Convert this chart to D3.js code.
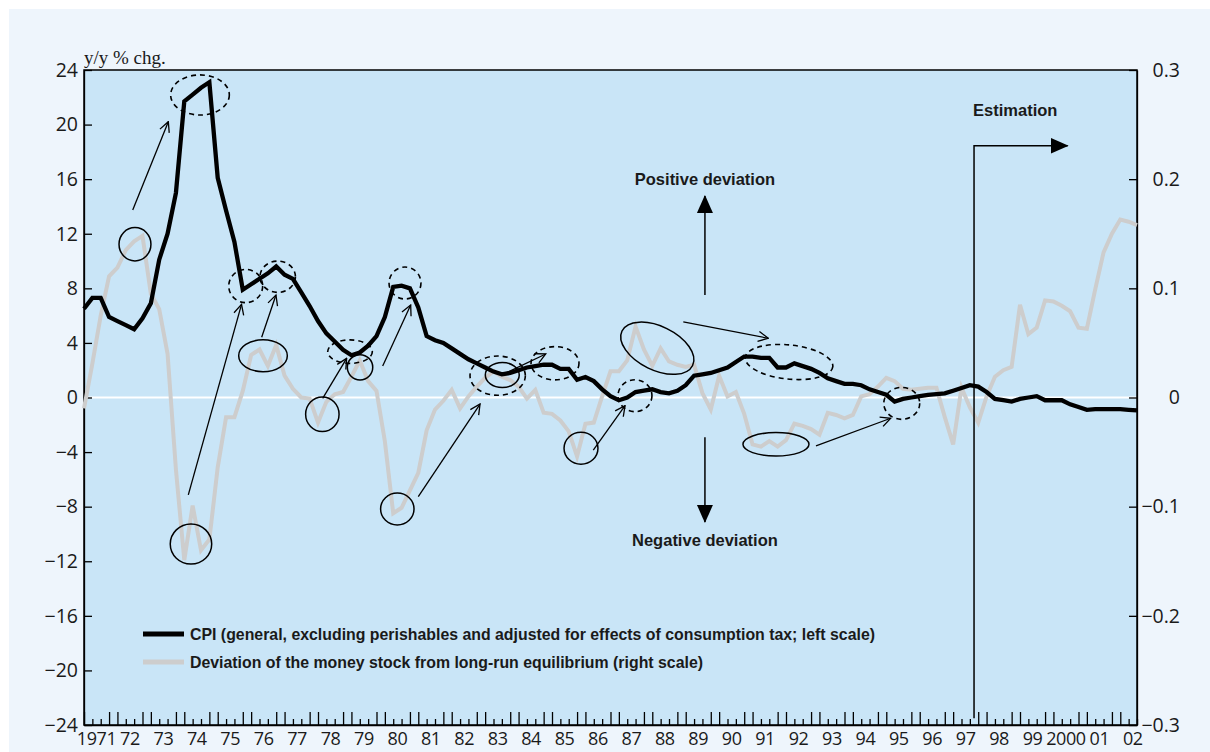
<!DOCTYPE html>
<html>
<head>
<meta charset="utf-8">
<script src="https://cdn.jsdelivr.net/npm/d3@7"></script>
<style>
  body { margin: 0; background: #fff; }
  svg text { font-family: "Open Sans", "DejaVu Sans", sans-serif; fill: #1a1a1a; }
  .cond { font-family: "Liberation Sans Narrow", "Arial Narrow", "Liberation Sans", sans-serif; font-weight: bold; }
</style>
</head>
<body>
<svg width="1210" height="752"></svg>
<script>
// quarterly data, 1971Q1 .. 2002Q3 (127 quarters)
var yearLabels = ["1971", "72", "73", "74", "75", "76", "77", "78", "79", "80",
  "81", "82", "83", "84", "85", "86", "87", "88", "89", "90", "91", "92", "93",
  "94", "95", "96", "97", "98", "99", "2000", "01", "02"];

var leftTicks = [-24, -20, -16, -12, -8, -4, 0, 4, 8, 12, 16, 20, 24];
var rightTicks = [-0.3, -0.2, -0.1, 0, 0.1, 0.2, 0.3];

// CPI, y/y % chg (left scale)
var cpi = [
  6.5, 7.3, 7.3, 5.9,     5.6, 5.3, 5.0, 5.8,     6.9, 10.1, 12.0, 15.0,
  21.7, 22.2, 22.7, 23.1, 16.1, 13.7, 11.4, 7.9,  8.3, 8.7, 9.1, 9.6,
  9.0, 8.7, 7.7, 6.7,     5.6, 4.7, 4.1, 3.5,     3.1, 3.3, 3.8, 4.5,
  5.9, 8.1, 8.2, 8.0,     6.6, 4.5, 4.2, 4.0,     3.6, 3.2, 2.8, 2.5,
  2.2, 1.9, 1.7, 1.8,     2.0, 2.2, 2.3, 2.4,     2.4, 2.1, 2.1, 1.3,
  1.5, 1.2, 0.6, 0.1,     -0.2, 0.0, 0.4, 0.5,    0.6, 0.4, 0.3, 0.5,
  0.9, 1.6, 1.7, 1.8,     2.0, 2.2, 2.6, 3.0,     3.0, 2.9, 2.9, 2.2,
  2.2, 2.5, 2.3, 2.1,     1.8, 1.4, 1.2, 1.0,     1.0, 0.9, 0.6, 0.4,
  0.2, -0.3, -0.1, 0.0,   0.1, 0.2, 0.25, 0.3,    0.5, 0.7, 0.9, 0.8,
  0.4, -0.1, -0.2, -0.3,  -0.1, 0.0, 0.1, -0.2,   -0.2, -0.2, -0.5, -0.7,
  -0.9, -0.85, -0.85, -0.85, -0.85, -0.9, -0.95
];

// deviation of money stock from long-run equilibrium (right scale)
var deviation = [
  -0.010, 0.031, 0.075, 0.111,   0.119, 0.135, 0.143, 0.148,
  0.095, 0.081, 0.040, -0.066,   -0.149, -0.099, -0.140, -0.130,
  -0.064, -0.018, -0.018, 0.006, 0.039, 0.044, 0.029, 0.048,
  0.020, 0.008, 0.000, -0.001,   -0.023, -0.004, 0.003, 0.005,
  0.019, 0.034, 0.015, 0.006,    -0.040, -0.106, -0.101, -0.085,
  -0.069, -0.030, -0.011, -0.003, 0.007, -0.010, 0.001, 0.010,
  0.018, 0.024, 0.019, 0.016,    0.010, -0.001, 0.007, -0.014,
  -0.015, -0.021, -0.031, -0.054, -0.024, -0.023, 0.001, 0.024,
  0.024, 0.034, 0.065, 0.044,    0.029, 0.045, 0.033, 0.030,
  0.028, 0.030, 0.004, -0.011,   0.020, 0.001, 0.005, -0.015,
  -0.043, -0.045, -0.040, -0.045, -0.039, -0.024, -0.026, -0.029,
  -0.034, -0.014, -0.016, -0.019, -0.016, 0.001, 0.003, 0.010,
  0.018, 0.015, 0.008, 0.007,    0.008, 0.009, 0.009, -0.018,
  -0.043, 0.009, -0.009, -0.023, 0.001, 0.019, 0.025, 0.028,
  0.085, 0.058, 0.064, 0.089,    0.088, 0.084, 0.079, 0.064,
  0.063, 0.099, 0.133, 0.150,    0.163, 0.161, 0.158
];

// annotations in data units: [quarter index, cpi value, rx (quarters), ry (%), rotation]
var solidRings = [
  [6.10, 11.23, 1.91, 1.22, 0], [12.80, -10.74, 2.48, 1.47, 0],
  [21.42, 3.06, 2.91, 1.17, 0], [28.52, -1.23, 2.0, 1.27, 0],
  [33.03, 2.21, 1.52, 0.93, 0], [37.49, -8.17, 2.0, 1.17, 0],
  [50.05, 1.65, 2.03, 0.92, 0], [59.47, -3.72, 2.03, 1.17, 0],
  [68.60, 3.61, 4.7, 1.6, 26], [82.80, -3.43, 3.95, 0.86, 0]
];
var dashedRings = [
  [13.88, 22.17, 3.51, 1.47, 0], [19.35, 8.17, 2.03, 1.22, 0],
  [23.18, 8.85, 2.12, 1.15, 0], [31.83, 3.36, 2.67, 0.86, 0],
  [38.41, 8.39, 1.91, 1.17, 0], [49.50, 1.60, 3.31, 1.44, 0],
  [56.36, 2.51, 2.87, 1.22, 0], [65.93, 0.13, 2.03, 1.17, 0],
  [84.36, 2.60, 5.27, 1.25, 6], [97.85, -0.43, 2.15, 1.17, 0]
];
var thinArrows = [
  [5.83, 13.74, 10.09, 20.21], [12.48, -7.14, 18.85, 6.82],
  [21.26, 4.41, 22.97, 7.51], [28.56, -0.06, 31.43, 2.87],
  [35.74, 2.31, 39.09, 6.78], [40.00, -7.27, 47.39, -0.48],
  [49.98, 1.65, 55.25, 3.19], [60.94, -3.85, 64.74, -0.60],
  [71.71, 5.55, 81.88, 4.34], [87.59, -3.55, 96.53, -1.52]
];
var deviationArrows = [[74.3, 7.51, 74.3, 14.77], [74.3, -2.92, 74.3, -9.12]];
var deviationLabels = [[74.3, 15.6, "Positive deviation"], [74.3, -10.9, "Negative deviation"]];
var estimationPath = [[106.5, -23.5], [106.5, 18.45], [117.7, 18.45]];

var svg = d3.select("svg"),
    margin = {top: 70, right: 73, bottom: 27, left: 84},
    width = +svg.attr("width") - margin.left - margin.right,
    height = +svg.attr("height") - margin.top - margin.bottom;

var x = d3.scaleLinear().domain([0, cpi.length - 1]).range([0, width]);
var yL = d3.scaleLinear().domain([-24, 24]).range([height, 0]);
var yR = d3.scaleLinear().domain([-0.3, 0.3]).range([height, 0]);

// outer panel
svg.append("rect").attr("x", 9).attr("y", 9).attr("width", 1201).attr("height", 743)
  .attr("fill", "#eef5fc");

var defs = svg.append("defs");
defs.append("marker").attr("id", "open").attr("viewBox", "0 0 12 12")
  .attr("refX", 11).attr("refY", 6).attr("markerWidth", 12).attr("markerHeight", 12)
  .attr("markerUnits", "userSpaceOnUse").attr("orient", "auto")
  .append("path").attr("d", "M1,1 L11,6 L1,11").attr("fill", "none")
  .attr("stroke", "#000").attr("stroke-width", 1.3);
defs.append("marker").attr("id", "solid").attr("viewBox", "0 0 18 18")
  .attr("refX", 17).attr("refY", 9).attr("markerWidth", 18).attr("markerHeight", 18)
  .attr("markerUnits", "userSpaceOnUse").attr("orient", "auto")
  .append("path").attr("d", "M0,1 L18,9 L0,17 Z").attr("fill", "#000");

var g = svg.append("g").attr("transform", "translate(" + margin.left + "," + margin.top + ")");

g.append("rect").attr("width", width).attr("height", height).attr("fill", "#c9e5f7");

// zero line
g.append("line").attr("x1", 0).attr("x2", width)
  .attr("y1", yL(0)).attr("y2", yL(0))
  .attr("stroke", "#fff").attr("stroke-width", 2);

// axes
var leftAxis = g.append("g")
  .call(d3.axisLeft(yL).tickValues(leftTicks).tickSize(-8).tickSizeOuter(0).tickPadding(6));
leftAxis.selectAll("text").attr("font-size", 19.5);

var rightAxis = g.append("g").attr("transform", "translate(" + width + ",0)")
  .call(d3.axisRight(yR).tickValues(rightTicks).tickSize(-8).tickSizeOuter(0)
    .tickFormat(function(d) { return d === 0 ? "0" : d3.format(".1f")(d); }));
rightAxis.selectAll("text").attr("font-size", 19.5).attr("text-anchor", "end").attr("x", 43);

var bottomAxis = g.append("g").attr("transform", "translate(0," + height + ")")
  .call(d3.axisBottom(x).tickValues(d3.range(0, cpi.length)).tickSize(-6).tickSizeOuter(0).tickFormat(""));
bottomAxis.selectAll(".tick line")
  .attr("y2", function(d) { return (d % 4 === 0 || d % 4 === 3) ? -13 : -6; });

g.selectAll(".domain, .tick line").attr("stroke", "#000").attr("stroke-width", 1.3);

g.append("g").selectAll("text").data(yearLabels).enter().append("text")
  .attr("x", function(d, i) { return x(i * 4 + 1.5); })
  .attr("y", height + 20)
  .attr("text-anchor", "middle").attr("font-size", 18)
  .attr("letter-spacing", -0.4)
  .text(function(d) { return d; });

// frame
g.append("rect").attr("width", width).attr("height", height)
  .attr("fill", "none").attr("stroke", "#000").attr("stroke-width", 1.5);

svg.append("text").attr("x", margin.left).attr("y", 64)
  .style("font-family", "'Liberation Serif', 'DejaVu Serif', serif")
  .attr("font-size", 19).text("y/y % chg.");

// series
var lineDev = d3.line().x(function(d, i) { return x(i); }).y(function(d) { return yR(d); });
var lineCpi = d3.line().x(function(d, i) { return x(i); }).y(function(d) { return yL(d); });

g.append("path").datum(deviation).attr("d", lineDev)
  .attr("fill", "none").attr("stroke", "#cdcdcd").attr("stroke-width", 4)
  .attr("stroke-linejoin", "miter");
g.append("path").datum(cpi).attr("d", lineCpi)
  .attr("fill", "none").attr("stroke", "#000").attr("stroke-width", 4.3)
  .attr("stroke-linejoin", "miter");

// annotations
function ring(sel, dashed) {
  sel.enter().append("ellipse")
    .attr("transform", function(d) { return "translate(" + x(d[0]) + "," + yL(d[1]) + ") rotate(" + d[4] + ")"; })
    .attr("rx", function(d) { return x(d[2]) - x(0); })
    .attr("ry", function(d) { return yL(0) - yL(d[3]); })
    .attr("fill", "none").attr("stroke", "#000").attr("stroke-width", dashed ? 1.6 : 1.5)
    .attr("stroke-dasharray", dashed ? "5,4" : null);
}
ring(g.append("g").selectAll("ellipse").data(solidRings), false);
ring(g.append("g").selectAll("ellipse").data(dashedRings), true);

g.append("g").selectAll("line").data(thinArrows).enter().append("line")
  .attr("x1", function(d) { return x(d[0]); }).attr("y1", function(d) { return yL(d[1]); })
  .attr("x2", function(d) { return x(d[2]); }).attr("y2", function(d) { return yL(d[3]); })
  .attr("stroke", "#000").attr("stroke-width", 1.3).attr("marker-end", "url(#open)");

g.append("g").selectAll("line").data(deviationArrows).enter().append("line")
  .attr("x1", function(d) { return x(d[0]); }).attr("y1", function(d) { return yL(d[1]); })
  .attr("x2", function(d) { return x(d[2]); }).attr("y2", function(d) { return yL(d[3]); })
  .attr("stroke", "#000").attr("stroke-width", 1.5).attr("marker-end", "url(#solid)");

g.append("g").selectAll("text").data(deviationLabels).enter().append("text")
  .attr("class", "cond")
  .attr("x", function(d) { return x(d[0]); }).attr("y", function(d) { return yL(d[1]); })
  .attr("text-anchor", "middle").attr("font-size", 16.5)
  .text(function(d) { return d[2]; });

g.append("path").datum(estimationPath)
  .attr("d", d3.line().x(function(d) { return x(d[0]); }).y(function(d) { return yL(d[1]); }))
  .attr("fill", "none").attr("stroke", "#000").attr("stroke-width", 1.5)
  .attr("marker-end", "url(#solid)");

g.append("text").attr("class", "cond")
  .attr("x", x(estimationPath[0][0]) - 1).attr("y", yL(20.6))
  .attr("font-size", 16.5).text("Estimation");

// legend
var legend = [
  {label: "CPI (general, excluding perishables and adjusted for effects of consumption tax; left scale)", color: "#000", len: 685},
  {label: "Deviation of the money stock from long-run equilibrium (right scale)", color: "#cdcdcd", len: 513}
];
var lg = svg.append("g").attr("transform", "translate(143,634)")
  .selectAll("g").data(legend).enter().append("g")
  .attr("transform", function(d, i) { return "translate(0," + i * 28 + ")"; });
lg.append("line").attr("x1", 0).attr("x2", 41)
  .attr("stroke", function(d) { return d.color; }).attr("stroke-width", 5);
lg.append("text").attr("class", "cond").attr("x", 47).attr("y", 6)
  .attr("font-size", 16.5)
  .attr("textLength", function(d) { return d.len; }).attr("lengthAdjust", "spacingAndGlyphs")
  .text(function(d) { return d.label; });
</script>
</body>
</html>
